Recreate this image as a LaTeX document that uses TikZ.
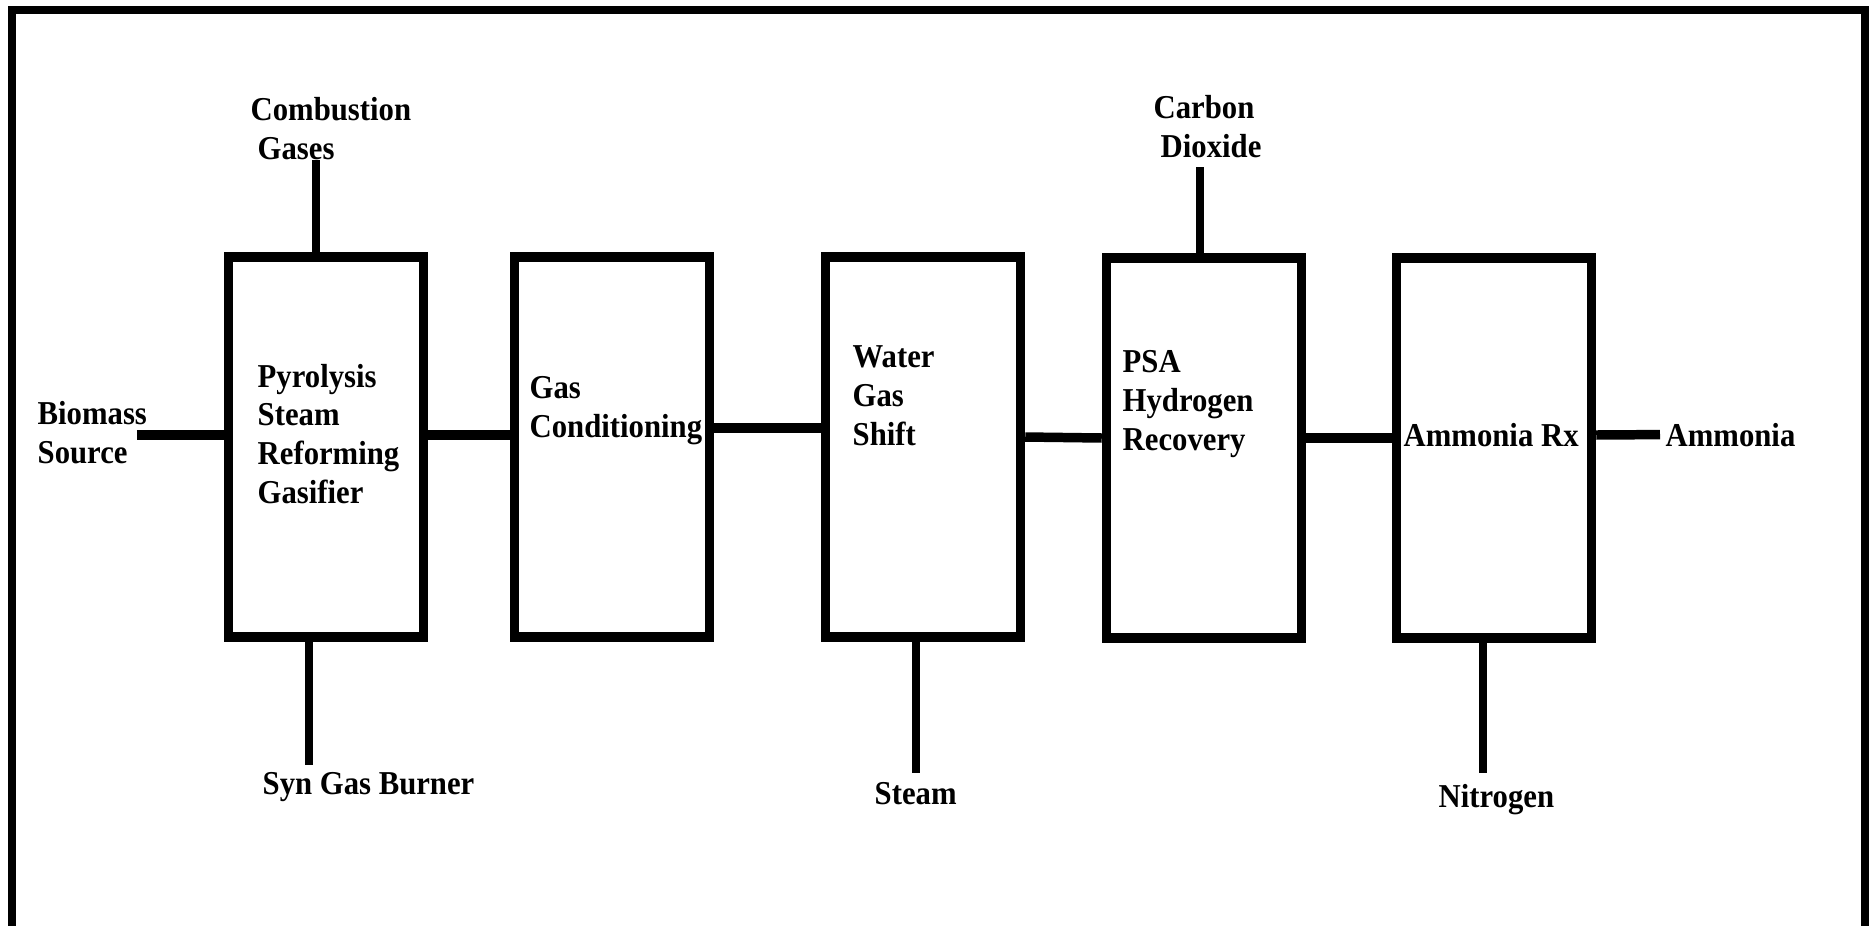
\documentclass[tikz,border=0pt]{standalone}
\usepackage{fontspec}
\setmainfont{Liberation Serif}[FakeStretch=0.92]

\begin{document}
\begin{tikzpicture}[x=1cm, y=-1cm,
    unit/.style={rectangle, draw, line width=2.7pt, minimum width=1.95cm,
                 minimum height=3.8cm, inner sep=0pt},
    lbl/.style={font=\fontsize{9.5}{11}\selectfont\bfseries, align=left,
                inner sep=0pt, anchor=base west},
    pipe/.style={line width=2.7pt},
    stub/.style={line width=2.3pt},
  ]
    \useasboundingbox (0,0) rectangle (18.69,9.26);
    % frame, open at the bottom
    \draw[line width=2.3pt] (0.12,9.5) -- (0.12,0.10) -- (18.65,0.10) -- (18.65,9.5);

    % process units
    \node[unit] (b1) at (3.26,4.47) {};
    \node[unit] (b2) at (6.12,4.47) {};
    \node[unit] (b3) at (9.23,4.47) {};
    \node[unit] (b4) at (12.04,4.48) {};
    \node[unit] (b5) at (14.94,4.48) {};

    % labels sit on the baseline of their last line
    \node[lbl] (t1) at (2.57,5.03) {Pyrolysis\\Steam\\Reforming\\Gasifier};
    \node[lbl] (t2) at (5.29,4.37) {Gas\\Conditioning};
    \node[lbl] (t3) at (8.52,4.45) {Water\\Gas\\Shift};
    \node[lbl] (t4) at (11.22,4.50) {PSA\\Hydrogen\\Recovery};
    \node[lbl] (t5) at (14.03,4.46) {Ammonia Rx};

    % streams
    \node[lbl] (bio) at (0.37,4.63) {Biomass\\Source};
    \node[lbl] (comb) at (2.50,1.59) {Combustion\\\hspace*{2pt}Gases};
    \node[lbl] (syn) at (2.62,7.94) {Syn Gas Burner};
    \node[lbl] (stm) at (8.74,8.04) {Steam};
    \node[lbl] (co2) at (11.53,1.57) {Carbon\\\hspace*{2pt}Dioxide};
    \node[lbl] (nit) at (14.38,8.07) {Nitrogen};
    \node[lbl] (amm) at (16.65,4.46) {Ammonia};

    \coordinate (src) at (1.37,4.35);
    \coordinate (cgT) at (3.16,1.60);
    \coordinate (sgB) at (3.09,7.65);
    \coordinate (stB) at (9.16,7.73);
    \coordinate (coT) at (12.00,1.67);
    \coordinate (niB) at (14.83,7.73);

    \draw[pipe] (src) -- (src -| b1.west);
    \draw[pipe] ([yshift=.12cm]b1.east) -- ([yshift=.12cm]b2.west);
    \draw[pipe] ([yshift=.19cm]b2.east) -- ([yshift=.19cm]b3.west);
    \draw[pipe] ([yshift=.10cm]b3.east) -- ([yshift=.10cm]b4.west);
    \draw[pipe] ([yshift=.10cm]b4.east) -- ([yshift=.10cm]b5.west);
    \draw[pipe] ([yshift=.13cm]b5.east) -- ([xshift=-.05cm]amm.west);

    \draw[stub] (b1.north -| cgT) -- (cgT);
    \draw[stub] (b1.south -| sgB) -- (sgB);
    \draw[stub] (b3.south -| stB) -- (stB);
    \draw[stub] (b4.north -| coT) -- (coT);
    \draw[stub] (b5.south -| niB) -- (niB);
\end{tikzpicture}
\end{document}
